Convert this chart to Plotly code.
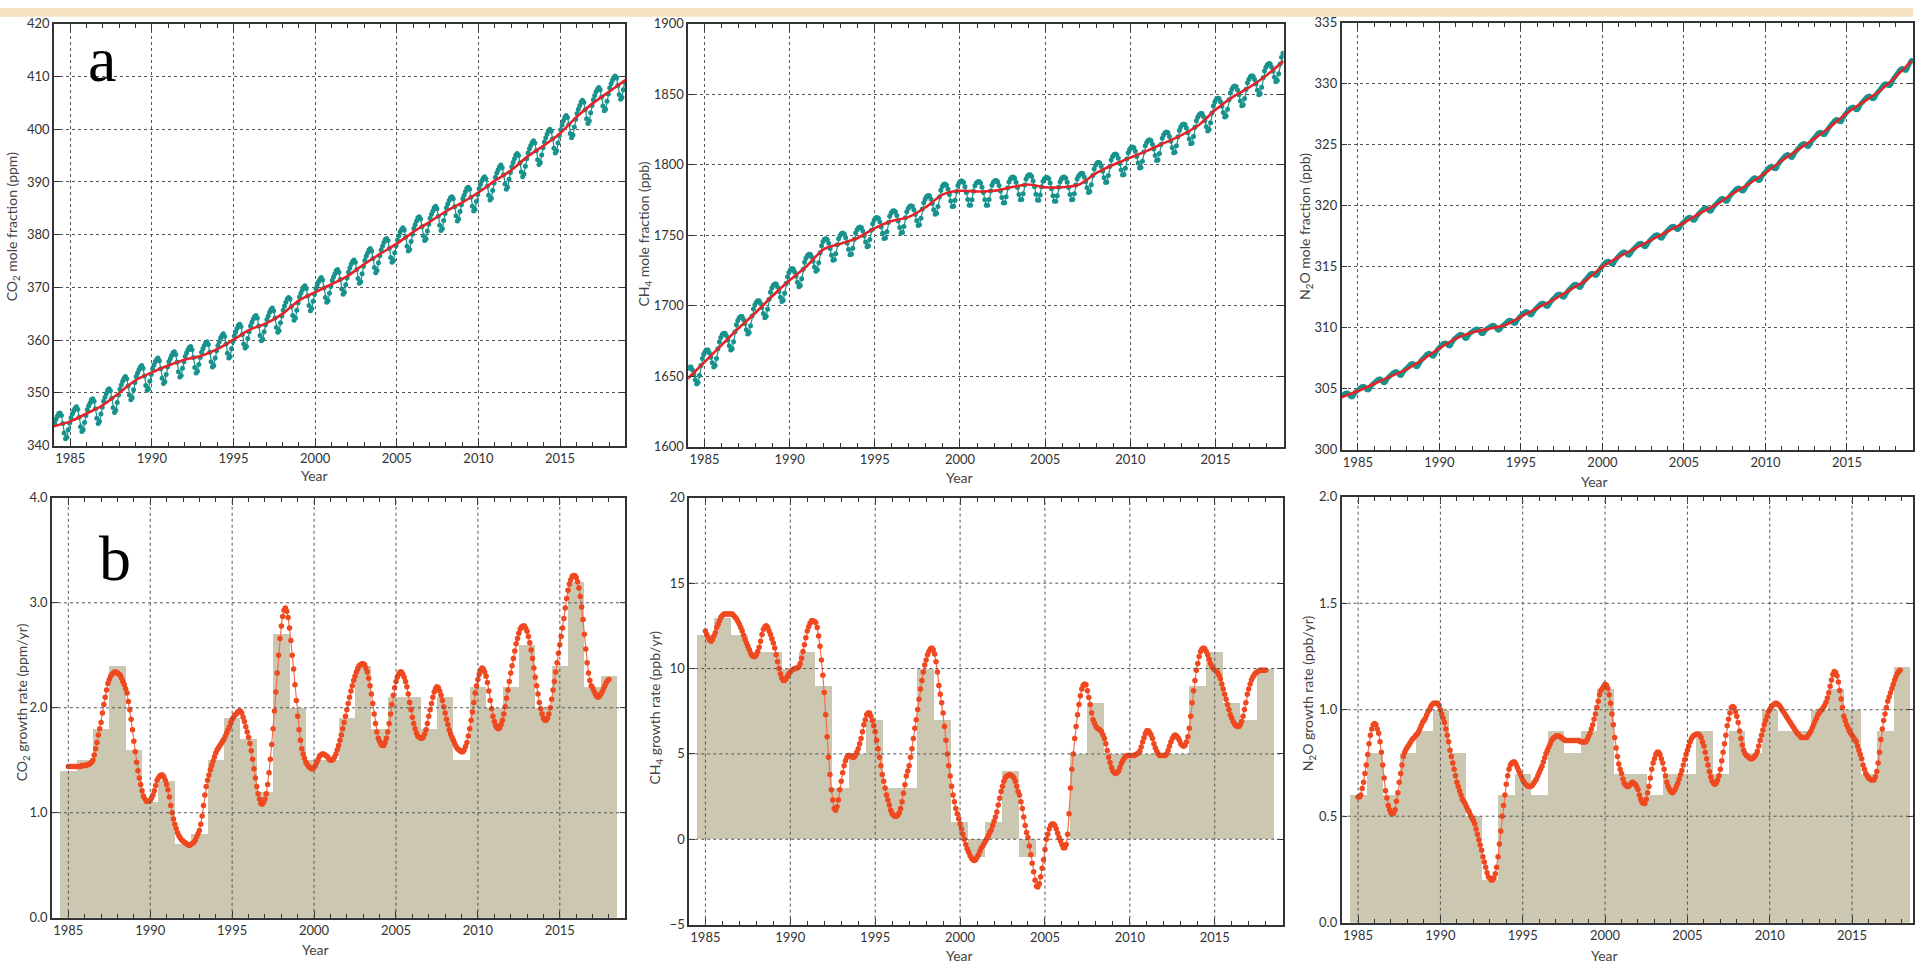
import plotly.graph_objects as go

W, H = 1915, 971

# ---------------- data ----------------
month_years = list(range(1984, 2019))      # monthly means, one row per year
trend_years = list(range(1984, 2020))      # de-seasonalised trend, Jan 1 of each year
bar_years = list(range(1985, 2019))        # annual increase bars
growth_start = 1985                        # growth-rate curves, monthly from Jan 1985

co2_month = [
    [344.3, 345.0, 345.6, 346.1, 346.2, 345.7, 344.2, 342.4, 341.3, 341.6, 343.0, 344.3],
    [345.3, 346.0, 346.6, 347.1, 347.4, 346.9, 345.4, 343.6, 342.7, 343.0, 344.4, 345.7],
    [346.8, 347.5, 348.1, 348.7, 348.9, 348.4, 347.0, 345.2, 344.2, 344.6, 346.0, 347.3],
    [348.4, 349.2, 349.9, 350.5, 350.8, 350.4, 349.0, 347.2, 346.3, 346.7, 348.2, 349.6],
    [350.7, 351.5, 352.2, 352.8, 353.1, 352.7, 351.3, 349.6, 348.7, 349.1, 350.6, 352.0],
    [353.1, 353.8, 354.4, 354.9, 355.2, 354.7, 353.2, 351.4, 350.5, 350.8, 352.2, 353.5],
    [354.6, 355.3, 355.9, 356.4, 356.6, 356.1, 354.6, 352.8, 351.8, 352.1, 353.5, 354.9],
    [355.9, 356.5, 357.1, 357.6, 357.8, 357.3, 355.8, 354.0, 353.0, 353.3, 354.7, 355.9],
    [356.9, 357.6, 358.2, 358.6, 358.8, 358.2, 356.7, 354.8, 353.8, 354.1, 355.4, 356.7],
    [357.7, 358.4, 359.0, 359.5, 359.7, 359.2, 357.7, 355.9, 354.9, 355.2, 356.6, 358.0],
    [359.0, 359.7, 360.4, 360.9, 361.2, 360.7, 359.3, 357.5, 356.6, 356.9, 358.4, 359.7],
    [360.8, 361.5, 362.2, 362.8, 363.0, 362.6, 361.1, 359.3, 358.5, 358.8, 360.3, 361.6],
    [362.7, 363.4, 364.0, 364.5, 364.7, 364.2, 362.7, 360.9, 359.9, 360.2, 361.6, 362.9],
    [363.9, 364.6, 365.3, 365.8, 366.1, 365.6, 364.2, 362.4, 361.5, 361.8, 363.3, 364.6],
    [365.7, 366.5, 367.2, 367.8, 368.1, 367.8, 366.4, 364.7, 363.8, 364.2, 365.7, 367.1],
    [368.2, 368.9, 369.5, 370.1, 370.3, 369.8, 368.4, 366.6, 365.6, 366.0, 367.4, 368.7],
    [369.8, 370.5, 371.1, 371.6, 371.9, 371.4, 369.9, 368.1, 367.2, 367.5, 368.9, 370.2],
    [371.3, 372.0, 372.6, 373.2, 373.4, 372.9, 371.5, 369.7, 368.7, 369.1, 370.5, 371.8],
    [372.9, 373.7, 374.4, 374.9, 375.2, 374.8, 373.4, 371.7, 370.8, 371.1, 372.6, 374.0],
    [375.1, 375.9, 376.5, 377.1, 377.4, 376.9, 375.5, 373.8, 372.8, 373.2, 374.7, 376.0],
    [377.1, 377.8, 378.5, 379.1, 379.3, 378.9, 377.4, 375.7, 374.8, 375.1, 376.6, 377.9],
    [379.0, 379.8, 380.5, 381.0, 381.3, 380.9, 379.5, 377.8, 376.9, 377.2, 378.7, 380.1],
    [381.2, 381.9, 382.6, 383.2, 383.4, 383.0, 381.5, 379.8, 378.9, 379.2, 380.7, 382.0],
    [383.1, 383.9, 384.5, 385.1, 385.4, 384.9, 383.5, 381.8, 380.8, 381.2, 382.7, 384.0],
    [385.1, 385.8, 386.5, 387.0, 387.2, 386.8, 385.3, 383.6, 382.6, 383.0, 384.4, 385.7],
    [386.8, 387.5, 388.2, 388.8, 389.0, 388.6, 387.1, 385.4, 384.5, 384.8, 386.3, 387.6],
    [388.7, 389.5, 390.2, 390.7, 391.0, 390.6, 389.2, 387.5, 386.6, 386.9, 388.4, 389.8],
    [390.9, 391.7, 392.3, 392.9, 393.2, 392.7, 391.3, 389.6, 388.6, 389.0, 390.5, 391.8],
    [392.9, 393.7, 394.4, 395.1, 395.4, 395.0, 393.6, 391.9, 391.0, 391.5, 393.0, 394.4],
    [395.5, 396.3, 396.9, 397.5, 397.8, 397.4, 395.9, 394.2, 393.3, 393.7, 395.1, 396.5],
    [397.6, 398.4, 399.1, 399.7, 400.0, 399.6, 398.2, 396.4, 395.5, 395.9, 397.4, 398.8],
    [399.9, 400.8, 401.6, 402.2, 402.6, 402.2, 400.9, 399.2, 398.4, 398.9, 400.4, 401.9],
    [403.0, 403.8, 404.5, 405.2, 405.5, 405.1, 403.7, 402.0, 401.1, 401.6, 403.1, 404.5],
    [405.6, 406.4, 407.1, 407.6, 407.9, 407.5, 406.1, 404.4, 403.5, 403.8, 405.3, 406.7],
    [407.8, 408.6, 409.3, 409.8, 410.1, 409.7, 408.3, 406.6, 405.7, 406.0, 407.5, 408.9],
]
co2_trend = [343.7, 344.6, 346.1, 347.7, 350.0, 352.4, 353.9, 355.2, 356.3, 357.0, 358.3, 360.1,
             362.0, 363.2, 365.0, 367.5, 369.1, 370.6, 372.2, 374.4, 376.4, 378.3, 380.5, 382.4,
             384.4, 386.1, 388.0, 390.2, 392.2, 394.8, 396.9, 399.2, 402.3, 404.9, 407.1, 409.3]

ch4_month = [
    [1655.5, 1656.5, 1656.5, 1654.5, 1651.5, 1647.5, 1644.5, 1645.5, 1650.5, 1657.5, 1662.5, 1665.5],
    [1667.5, 1668.5, 1668.5, 1666.5, 1663.5, 1659.5, 1656.5, 1657.5, 1662.5, 1669.5, 1674.5, 1677.5],
    [1679.5, 1680.5, 1680.5, 1678.5, 1675.5, 1671.5, 1668.5, 1669.5, 1674.5, 1681.5, 1686.5, 1689.5],
    [1691.5, 1692.4, 1692.3, 1690.2, 1687.1, 1683.0, 1680.0, 1680.9, 1685.8, 1692.7, 1697.6, 1700.5],
    [1702.5, 1703.5, 1703.5, 1701.5, 1698.5, 1694.5, 1691.5, 1692.5, 1697.5, 1704.5, 1709.5, 1712.5],
    [1714.5, 1715.4, 1715.3, 1713.2, 1710.1, 1706.0, 1703.0, 1703.9, 1708.8, 1715.7, 1720.6, 1723.5],
    [1725.4, 1726.3, 1726.1, 1723.9, 1720.8, 1716.6, 1713.4, 1714.3, 1719.1, 1725.9, 1730.8, 1733.6],
    [1735.5, 1736.5, 1736.5, 1734.5, 1731.5, 1727.5, 1724.5, 1725.5, 1730.5, 1737.5, 1742.5, 1745.5],
    [1747.2, 1747.5, 1746.8, 1744.2, 1740.5, 1735.8, 1732.2, 1732.5, 1736.8, 1743.2, 1747.5, 1749.8],
    [1751.2, 1751.5, 1750.8, 1748.2, 1744.5, 1739.8, 1736.2, 1736.5, 1740.8, 1747.2, 1751.5, 1753.8],
    [1755.3, 1755.9, 1755.5, 1753.0, 1749.6, 1745.2, 1741.8, 1742.4, 1747.0, 1753.5, 1758.1, 1760.7],
    [1762.2, 1762.6, 1762.0, 1759.5, 1755.9, 1751.3, 1747.7, 1748.1, 1752.5, 1759.0, 1763.4, 1765.8],
    [1767.1, 1767.4, 1766.6, 1763.9, 1760.1, 1755.4, 1751.6, 1751.9, 1756.1, 1762.4, 1766.6, 1768.9],
    [1770.3, 1770.9, 1770.5, 1768.0, 1764.6, 1760.2, 1756.8, 1757.4, 1762.0, 1768.5, 1773.1, 1775.7],
    [1777.4, 1778.1, 1777.9, 1775.6, 1772.4, 1768.1, 1764.9, 1765.6, 1770.4, 1777.1, 1781.9, 1784.6],
    [1786.1, 1786.3, 1785.5, 1782.7, 1778.9, 1774.2, 1770.4, 1770.6, 1774.8, 1781.0, 1785.2, 1787.4],
    [1788.5, 1788.4, 1787.4, 1784.4, 1780.3, 1775.3, 1771.2, 1771.2, 1775.1, 1781.1, 1785.1, 1787.0],
    [1788.0, 1788.1, 1787.1, 1784.1, 1780.2, 1775.2, 1771.3, 1771.3, 1775.4, 1781.4, 1785.4, 1787.5],
    [1788.6, 1788.8, 1788.0, 1785.2, 1781.4, 1776.7, 1772.9, 1773.1, 1777.3, 1783.5, 1787.7, 1789.9],
    [1791.1, 1791.3, 1790.4, 1787.6, 1783.8, 1778.9, 1775.1, 1775.3, 1779.4, 1785.6, 1789.8, 1791.9],
    [1792.9, 1792.8, 1791.6, 1788.4, 1784.3, 1779.1, 1774.9, 1774.8, 1778.6, 1784.4, 1788.3, 1790.1],
    [1791.0, 1791.0, 1790.0, 1787.0, 1783.0, 1778.0, 1774.0, 1774.0, 1778.0, 1784.0, 1788.0, 1790.0],
    [1791.1, 1791.3, 1790.4, 1787.6, 1783.8, 1778.9, 1775.1, 1775.3, 1779.4, 1785.6, 1789.8, 1791.9],
    [1793.3, 1794.0, 1793.7, 1791.3, 1788.0, 1783.7, 1780.3, 1781.0, 1785.7, 1792.3, 1797.0, 1799.7],
    [1801.3, 1801.8, 1801.3, 1798.8, 1795.3, 1790.8, 1787.3, 1787.8, 1792.3, 1798.8, 1803.3, 1805.8],
    [1807.2, 1807.6, 1807.0, 1804.5, 1800.9, 1796.3, 1792.7, 1793.1, 1797.5, 1804.0, 1808.4, 1810.8],
    [1812.2, 1812.6, 1812.0, 1809.5, 1805.9, 1801.3, 1797.7, 1798.1, 1802.5, 1809.0, 1813.4, 1815.8],
    [1817.2, 1817.7, 1817.2, 1814.6, 1811.1, 1806.5, 1803.0, 1803.4, 1807.9, 1814.4, 1818.8, 1821.3],
    [1822.7, 1823.2, 1822.7, 1820.1, 1816.6, 1812.0, 1808.5, 1808.9, 1813.4, 1819.9, 1824.3, 1826.8],
    [1828.3, 1828.9, 1828.5, 1826.0, 1822.6, 1818.2, 1814.8, 1815.4, 1820.0, 1826.5, 1831.1, 1833.7],
    [1835.5, 1836.4, 1836.3, 1834.2, 1831.1, 1827.0, 1824.0, 1824.9, 1829.8, 1836.7, 1841.6, 1844.5],
    [1846.4, 1847.1, 1846.9, 1844.6, 1841.4, 1837.1, 1833.9, 1834.6, 1839.4, 1846.1, 1850.9, 1853.6],
    [1855.3, 1855.9, 1855.5, 1853.0, 1849.6, 1845.2, 1841.8, 1842.4, 1847.0, 1853.5, 1858.1, 1860.7],
    [1862.4, 1863.1, 1862.8, 1860.5, 1857.2, 1852.9, 1849.6, 1850.3, 1855.0, 1861.7, 1866.4, 1869.2],
    [1870.9, 1871.8, 1871.6, 1869.4, 1866.3, 1862.1, 1858.9, 1859.8, 1864.6, 1871.4, 1876.3, 1879.1],
]
ch4_trend = [1648, 1660, 1672, 1684, 1695, 1707, 1718, 1728, 1740, 1744, 1748, 1755,
             1760, 1763, 1770, 1779, 1781.5, 1781, 1781.5, 1784, 1786, 1784, 1784, 1786,
             1794, 1800, 1805, 1810, 1815.5, 1821, 1828, 1839, 1848, 1855, 1863.5, 1873.5]

n2o_month = [
    [304.42, 304.51, 304.60, 304.65, 304.64, 304.53, 304.37, 304.31, 304.40, 304.60, 304.74, 304.83],
    [304.93, 305.03, 305.13, 305.18, 305.18, 305.08, 304.93, 304.88, 304.98, 305.18, 305.33, 305.43],
    [305.53, 305.63, 305.73, 305.78, 305.78, 305.68, 305.53, 305.48, 305.58, 305.78, 305.93, 306.03],
    [306.13, 306.23, 306.33, 306.38, 306.38, 306.28, 306.13, 306.08, 306.18, 306.38, 306.53, 306.63],
    [306.73, 306.85, 306.97, 307.03, 307.05, 306.97, 306.83, 306.80, 306.92, 307.13, 307.30, 307.42],
    [307.54, 307.66, 307.79, 307.86, 307.89, 307.81, 307.69, 307.66, 307.79, 308.01, 308.19, 308.31],
    [308.43, 308.55, 308.67, 308.73, 308.75, 308.67, 308.53, 308.50, 308.62, 308.83, 309.00, 309.12],
    [309.22, 309.31, 309.40, 309.45, 309.44, 309.33, 309.17, 309.11, 309.20, 309.40, 309.54, 309.63],
    [309.71, 309.79, 309.86, 309.89, 309.86, 309.74, 309.56, 309.49, 309.56, 309.74, 309.86, 309.94],
    [310.01, 310.09, 310.16, 310.19, 310.16, 310.04, 309.86, 309.79, 309.86, 310.04, 310.16, 310.24],
    [310.33, 310.44, 310.55, 310.60, 310.61, 310.52, 310.38, 310.34, 310.45, 310.65, 310.81, 310.92],
    [311.03, 311.14, 311.25, 311.30, 311.31, 311.22, 311.08, 311.04, 311.15, 311.35, 311.51, 311.62],
    [311.73, 311.84, 311.95, 312.00, 312.01, 311.92, 311.78, 311.74, 311.85, 312.05, 312.21, 312.32],
    [312.43, 312.55, 312.67, 312.73, 312.75, 312.67, 312.53, 312.50, 312.62, 312.83, 313.00, 313.12],
    [313.23, 313.35, 313.47, 313.53, 313.55, 313.47, 313.33, 313.30, 313.42, 313.63, 313.80, 313.92],
    [314.05, 314.19, 314.33, 314.42, 314.46, 314.40, 314.30, 314.29, 314.43, 314.67, 314.86, 315.00],
    [315.13, 315.25, 315.37, 315.43, 315.45, 315.37, 315.23, 315.20, 315.32, 315.53, 315.70, 315.82],
    [315.93, 316.04, 316.15, 316.20, 316.21, 316.12, 315.98, 315.94, 316.05, 316.25, 316.41, 316.52],
    [316.63, 316.74, 316.85, 316.90, 316.91, 316.82, 316.68, 316.64, 316.75, 316.95, 317.11, 317.22],
    [317.33, 317.44, 317.55, 317.60, 317.61, 317.52, 317.38, 317.34, 317.45, 317.65, 317.81, 317.92],
    [318.03, 318.14, 318.25, 318.30, 318.31, 318.22, 318.08, 318.04, 318.15, 318.35, 318.51, 318.62],
    [318.73, 318.85, 318.97, 319.03, 319.05, 318.97, 318.83, 318.80, 318.92, 319.13, 319.30, 319.42],
    [319.53, 319.64, 319.75, 319.80, 319.81, 319.72, 319.58, 319.54, 319.65, 319.85, 320.01, 320.12],
    [320.24, 320.36, 320.49, 320.56, 320.59, 320.51, 320.39, 320.36, 320.49, 320.71, 320.89, 321.01],
    [321.13, 321.25, 321.37, 321.43, 321.45, 321.37, 321.23, 321.20, 321.32, 321.53, 321.70, 321.82],
    [321.94, 322.06, 322.19, 322.26, 322.29, 322.21, 322.09, 322.06, 322.19, 322.41, 322.59, 322.71],
    [322.84, 322.98, 323.11, 323.19, 323.23, 323.16, 323.04, 323.03, 323.16, 323.39, 323.58, 323.71],
    [323.84, 323.96, 324.09, 324.16, 324.19, 324.11, 323.99, 323.96, 324.09, 324.31, 324.49, 324.61],
    [324.74, 324.86, 324.99, 325.06, 325.09, 325.01, 324.89, 324.86, 324.99, 325.21, 325.39, 325.51],
    [325.64, 325.78, 325.91, 325.99, 326.03, 325.96, 325.84, 325.83, 325.96, 326.19, 326.38, 326.51],
    [326.65, 326.79, 326.93, 327.02, 327.06, 327.00, 326.90, 326.89, 327.03, 327.27, 327.46, 327.60],
    [327.74, 327.86, 327.99, 328.06, 328.09, 328.01, 327.89, 327.86, 327.99, 328.21, 328.39, 328.51],
    [328.64, 328.76, 328.89, 328.96, 328.99, 328.91, 328.79, 328.76, 328.89, 329.11, 329.29, 329.41],
    [329.55, 329.70, 329.85, 329.95, 330.00, 329.95, 329.85, 329.85, 330.00, 330.25, 330.45, 330.60],
    [330.75, 330.91, 331.07, 331.18, 331.24, 331.20, 331.10, 331.11, 331.27, 331.53, 331.74, 331.90],
]
n2o_trend = [304.3, 304.8, 305.4, 306.0, 306.6, 307.4, 308.3, 309.1, 309.6, 309.9, 310.2, 310.9,
             311.6, 312.3, 313.1, 313.9, 315.0, 315.8, 316.5, 317.2, 317.9, 318.6, 319.4, 320.1,
             321.0, 321.8, 322.7, 323.7, 324.6, 325.5, 326.5, 327.6, 328.5, 329.4, 330.6, 331.9]

co2_bars = [1.4, 1.5, 1.8, 2.4, 1.6, 1.1, 1.3, 0.7, 0.8, 1.5, 1.9, 1.7, 1.2, 2.7, 2.0, 1.5, 1.5,
            1.9, 2.4, 1.8, 2.1, 2.1, 1.8, 2.1, 1.5, 2.2, 2.0, 2.2, 2.6, 2.0, 2.4, 3.2, 2.2, 2.3]
ch4_bars = [12, 13, 12, 11, 11, 10, 11, 9, 3, 5, 7, 3, 3, 10, 7, 1, -1,
            1, 4, -1, 0, 0, 5, 8, 5, 5, 5, 5, 5, 9, 11, 8, 7, 10]
n2o_bars = [0.6, 0.8, 0.6, 0.8, 0.9, 1.0, 0.8, 0.5, 0.2, 0.6, 0.7, 0.6, 0.9, 0.8, 0.9, 1.1, 0.7,
            0.7, 0.6, 0.7, 0.7, 0.9, 0.7, 0.9, 0.8, 1.0, 0.9, 0.9, 1.0, 1.1, 1.0, 0.7, 0.9, 1.2]

co2_growth = [
    [1.44, 1.44, 1.44, 1.44, 1.44, 1.44, 1.44, 1.44, 1.44, 1.44, 1.45, 1.45],
    [1.45, 1.45, 1.46, 1.46, 1.47, 1.48, 1.50, 1.55, 1.61, 1.67, 1.74, 1.80],
    [1.86, 1.95, 2.03, 2.10, 2.17, 2.23, 2.27, 2.30, 2.32, 2.33, 2.34, 2.34],
    [2.33, 2.32, 2.31, 2.28, 2.25, 2.22, 2.18, 2.14, 2.06, 1.98, 1.89, 1.79],
    [1.68, 1.58, 1.48, 1.40, 1.33, 1.27, 1.21, 1.16, 1.13, 1.11, 1.11, 1.11],
    [1.12, 1.14, 1.17, 1.21, 1.26, 1.31, 1.33, 1.35, 1.36, 1.36, 1.34, 1.31],
    [1.27, 1.22, 1.15, 1.07, 1.00, 0.94, 0.89, 0.85, 0.81, 0.78, 0.76, 0.74],
    [0.73, 0.72, 0.71, 0.70, 0.69, 0.69, 0.70, 0.71, 0.72, 0.74, 0.77, 0.80],
    [0.83, 0.89, 0.97, 1.07, 1.17, 1.25, 1.31, 1.36, 1.41, 1.45, 1.49, 1.53],
    [1.57, 1.60, 1.62, 1.64, 1.66, 1.68, 1.70, 1.73, 1.76, 1.79, 1.82, 1.86],
    [1.89, 1.91, 1.93, 1.94, 1.96, 1.97, 1.97, 1.95, 1.91, 1.87, 1.82, 1.77],
    [1.72, 1.66, 1.59, 1.51, 1.42, 1.33, 1.25, 1.18, 1.13, 1.09, 1.08, 1.10],
    [1.13, 1.18, 1.27, 1.38, 1.51, 1.65, 1.80, 1.97, 2.15, 2.33, 2.50, 2.66],
    [2.78, 2.87, 2.93, 2.95, 2.92, 2.86, 2.76, 2.64, 2.50, 2.37, 2.22, 2.07],
    [1.92, 1.79, 1.69, 1.61, 1.56, 1.52, 1.48, 1.46, 1.44, 1.43, 1.42, 1.42],
    [1.43, 1.45, 1.48, 1.51, 1.54, 1.55, 1.56, 1.56, 1.55, 1.54, 1.53, 1.51],
    [1.50, 1.50, 1.51, 1.53, 1.56, 1.60, 1.64, 1.69, 1.74, 1.80, 1.86, 1.92],
    [1.98, 2.04, 2.10, 2.16, 2.21, 2.26, 2.30, 2.34, 2.37, 2.40, 2.41, 2.42],
    [2.42, 2.41, 2.38, 2.34, 2.28, 2.21, 2.13, 2.04, 1.94, 1.85, 1.77, 1.71],
    [1.68, 1.65, 1.64, 1.64, 1.67, 1.71, 1.77, 1.85, 1.94, 2.03, 2.12, 2.19],
    [2.25, 2.29, 2.32, 2.34, 2.34, 2.32, 2.29, 2.25, 2.20, 2.13, 2.05, 1.98],
    [1.91, 1.85, 1.80, 1.76, 1.73, 1.72, 1.71, 1.71, 1.72, 1.75, 1.79, 1.85],
    [1.92, 1.98, 2.04, 2.10, 2.15, 2.18, 2.20, 2.19, 2.16, 2.12, 2.07, 2.01],
    [1.95, 1.89, 1.84, 1.79, 1.75, 1.72, 1.69, 1.66, 1.63, 1.61, 1.60, 1.59],
    [1.58, 1.58, 1.60, 1.63, 1.67, 1.73, 1.80, 1.88, 1.96, 2.05, 2.14, 2.21],
    [2.27, 2.32, 2.36, 2.38, 2.37, 2.34, 2.30, 2.24, 2.16, 2.07, 1.99, 1.92],
    [1.87, 1.83, 1.81, 1.80, 1.81, 1.84, 1.88, 1.94, 2.01, 2.09, 2.17, 2.25],
    [2.33, 2.40, 2.47, 2.54, 2.61, 2.66, 2.71, 2.75, 2.77, 2.78, 2.78, 2.76],
    [2.73, 2.68, 2.62, 2.55, 2.47, 2.38, 2.29, 2.21, 2.13, 2.05, 1.99, 1.94],
    [1.90, 1.88, 1.88, 1.90, 1.94, 2.00, 2.08, 2.17, 2.25, 2.34, 2.43, 2.52],
    [2.60, 2.68, 2.76, 2.85, 2.95, 3.04, 3.12, 3.18, 3.22, 3.25, 3.26, 3.26],
    [3.24, 3.20, 3.14, 3.06, 2.96, 2.84, 2.70, 2.56, 2.43, 2.33, 2.26, 2.21],
    [2.19, 2.16, 2.13, 2.11, 2.10, 2.11, 2.13, 2.15, 2.18, 2.21, 2.24, 2.26],
    [2.27],
]

ch4_growth = [
    [12.2, 12.0, 11.8, 11.65, 11.6, 11.7, 11.9, 12.1, 12.4, 12.6, 12.8, 13.0],
    [13.1, 13.2, 13.2, 13.2, 13.2, 13.2, 13.2, 13.2, 13.1, 13.0, 12.9, 12.75],
    [12.6, 12.4, 12.2, 11.95, 11.7, 11.5, 11.3, 11.1, 10.9, 10.75, 10.7, 10.7],
    [10.8, 11.0, 11.25, 11.6, 12.0, 12.3, 12.45, 12.5, 12.4, 12.2, 12.0, 11.75],
    [11.5, 11.2, 10.8, 10.4, 10.0, 9.7, 9.45, 9.3, 9.3, 9.4, 9.55, 9.7],
    [9.8, 9.9, 9.95, 10.0, 10.0, 10.05, 10.1, 10.3, 10.6, 11.0, 11.4, 11.8],
    [12.2, 12.45, 12.65, 12.8, 12.8, 12.75, 12.7, 12.4, 11.9, 11.3, 10.5, 9.6],
    [8.6, 7.3, 6.0, 4.8, 3.8, 2.9, 2.3, 1.8, 1.7, 1.9, 2.3, 2.9],
    [3.4, 3.9, 4.3, 4.6, 4.8, 4.9, 4.9, 4.85, 4.8, 4.8, 4.9, 5.1],
    [5.3, 5.6, 5.9, 6.3, 6.7, 7.0, 7.3, 7.4, 7.4, 7.2, 6.95, 6.65],
    [6.3, 5.8, 5.3, 4.8, 4.3, 3.8, 3.4, 3.0, 2.6, 2.3, 2.0, 1.7],
    [1.5, 1.4, 1.35, 1.35, 1.4, 1.55, 1.8, 2.2, 2.7, 3.2, 3.7, 4.0],
    [4.3, 4.8, 5.3, 5.9, 6.5, 7.0, 7.6, 8.2, 8.8, 9.3, 9.8, 10.2],
    [10.5, 10.8, 11.0, 11.15, 11.2, 11.1, 10.85, 10.4, 9.8, 9.0, 8.5, 8.0],
    [7.4, 6.6, 5.8, 5.0, 4.3, 3.7, 3.1, 2.6, 2.2, 1.8, 1.5, 1.2],
    [0.9, 0.6, 0.3, 0.0, -0.3, -0.55, -0.75, -0.95, -1.1, -1.2, -1.25, -1.2],
    [-1.05, -0.9, -0.7, -0.5, -0.4, -0.25, -0.1, 0.05, 0.2, 0.4, 0.55, 0.8],
    [1.05, 1.3, 1.6, 2.0, 2.4, 2.8, 3.1, 3.4, 3.6, 3.7, 3.75, 3.8],
    [3.75, 3.7, 3.6, 3.4, 3.1, 2.8, 2.6, 2.2, 1.8, 1.3, 0.8, 0.4],
    [0.1, -0.4, -0.9, -1.4, -1.9, -2.4, -2.75, -2.8, -2.6, -2.2, -1.7, -1.2],
    [-0.6, 0.0, 0.3, 0.6, 0.8, 0.9, 0.9, 0.8, 0.6, 0.35, 0.1, -0.1],
    [-0.3, -0.5, -0.5, -0.3, 0.3, 1.5, 3.0, 4.1, 5.0, 5.9, 6.6, 7.3],
    [7.9, 8.4, 8.8, 9.0, 9.1, 9.05, 8.7, 8.3, 7.9, 7.4, 7.0, 6.8],
    [6.6, 6.5, 6.45, 6.4, 6.3, 6.1, 5.9, 5.6, 5.2, 4.8, 4.5, 4.2],
    [4.0, 3.9, 3.85, 3.9, 4.0, 4.2, 4.45, 4.6, 4.75, 4.85, 4.9, 4.9],
    [4.9, 4.9, 4.9, 4.9, 4.95, 5.0, 5.05, 5.15, 5.4, 5.7, 5.95, 6.2],
    [6.35, 6.35, 6.25, 6.1, 5.9, 5.6, 5.35, 5.15, 5.0, 4.9, 4.9, 4.9],
    [4.9, 4.9, 5.0, 5.2, 5.45, 5.7, 5.9, 6.05, 6.1, 6.05, 5.95, 5.8],
    [5.6, 5.5, 5.45, 5.5, 5.7, 6.0, 6.5, 7.2, 8.0, 8.7, 9.3, 9.9],
    [10.3, 10.7, 11.0, 11.15, 11.2, 11.15, 11.0, 10.8, 10.55, 10.3, 10.1, 10.0],
    [9.9, 9.85, 9.75, 9.6, 9.4, 9.1, 8.8, 8.5, 8.2, 7.9, 7.6, 7.3],
    [7.1, 6.9, 6.75, 6.65, 6.6, 6.6, 6.7, 6.9, 7.2, 7.6, 8.0, 8.5],
    [8.8, 9.1, 9.35, 9.5, 9.65, 9.75, 9.8, 9.85, 9.9, 9.9, 9.9, 9.9],
    [9.9],
]

n2o_growth = [
    [0.59, 0.59, 0.60, 0.63, 0.66, 0.70, 0.74, 0.79, 0.84, 0.88, 0.91, 0.93],
    [0.935, 0.93, 0.91, 0.89, 0.85, 0.80, 0.74, 0.68, 0.62, 0.585, 0.55, 0.53],
    [0.515, 0.51, 0.515, 0.53, 0.57, 0.61, 0.66, 0.70, 0.74, 0.78, 0.80, 0.815],
    [0.825, 0.835, 0.845, 0.855, 0.865, 0.87, 0.88, 0.885, 0.895, 0.91, 0.925, 0.94],
    [0.95, 0.96, 0.975, 0.99, 1.00, 1.015, 1.025, 1.03, 1.03, 1.03, 1.03, 1.02],
    [1.00, 0.98, 0.96, 0.94, 0.91, 0.88, 0.85, 0.81, 0.78, 0.75, 0.72, 0.69],
    [0.66, 0.64, 0.62, 0.60, 0.58, 0.57, 0.56, 0.545, 0.53, 0.52, 0.505, 0.49],
    [0.48, 0.465, 0.44, 0.415, 0.39, 0.365, 0.34, 0.31, 0.285, 0.26, 0.235, 0.215],
    [0.21, 0.20, 0.20, 0.21, 0.23, 0.26, 0.31, 0.37, 0.43, 0.50, 0.55, 0.60],
    [0.65, 0.69, 0.72, 0.74, 0.75, 0.755, 0.755, 0.745, 0.73, 0.715, 0.70, 0.685],
    [0.67, 0.66, 0.65, 0.645, 0.64, 0.64, 0.64, 0.645, 0.655, 0.665, 0.675, 0.69],
    [0.705, 0.72, 0.735, 0.755, 0.775, 0.795, 0.81, 0.825, 0.84, 0.855, 0.865, 0.87],
    [0.875, 0.877, 0.877, 0.875, 0.87, 0.865, 0.86, 0.855, 0.855, 0.855, 0.855, 0.855],
    [0.855, 0.855, 0.855, 0.855, 0.855, 0.855, 0.85, 0.85, 0.848, 0.848, 0.85, 0.86],
    [0.875, 0.89, 0.91, 0.93, 0.955, 0.98, 1.01, 1.04, 1.07, 1.09, 1.10, 1.11],
    [1.12, 1.115, 1.10, 1.07, 1.03, 0.98, 0.93, 0.87, 0.82, 0.78, 0.745, 0.72],
    [0.70, 0.675, 0.655, 0.645, 0.64, 0.64, 0.645, 0.655, 0.66, 0.655, 0.65, 0.64],
    [0.625, 0.60, 0.58, 0.565, 0.56, 0.56, 0.58, 0.61, 0.64, 0.68, 0.72, 0.75],
    [0.77, 0.79, 0.80, 0.80, 0.79, 0.77, 0.75, 0.72, 0.69, 0.66, 0.64, 0.625],
    [0.615, 0.61, 0.615, 0.625, 0.64, 0.655, 0.675, 0.695, 0.715, 0.74, 0.765, 0.79],
    [0.81, 0.83, 0.85, 0.865, 0.875, 0.88, 0.885, 0.885, 0.885, 0.88, 0.87, 0.85],
    [0.83, 0.80, 0.77, 0.74, 0.71, 0.685, 0.665, 0.655, 0.65, 0.655, 0.67, 0.69],
    [0.72, 0.76, 0.80, 0.84, 0.88, 0.925, 0.955, 0.985, 1.01, 1.015, 1.01, 0.99],
    [0.97, 0.94, 0.90, 0.865, 0.835, 0.81, 0.795, 0.785, 0.78, 0.775, 0.77, 0.77],
    [0.775, 0.78, 0.79, 0.805, 0.83, 0.855, 0.88, 0.905, 0.93, 0.95, 0.97, 0.99],
    [1.00, 1.01, 1.02, 1.025, 1.03, 1.03, 1.025, 1.02, 1.01, 1.00, 0.99, 0.98],
    [0.97, 0.96, 0.95, 0.94, 0.93, 0.92, 0.91, 0.90, 0.89, 0.885, 0.875, 0.87],
    [0.87, 0.87, 0.87, 0.87, 0.88, 0.89, 0.90, 0.915, 0.93, 0.945, 0.96, 0.975],
    [0.985, 0.995, 1.00, 1.01, 1.02, 1.035, 1.055, 1.08, 1.11, 1.14, 1.165, 1.18],
    [1.175, 1.16, 1.13, 1.09, 1.05, 1.01, 0.97, 0.95, 0.93, 0.915, 0.90, 0.89],
    [0.88, 0.87, 0.86, 0.85, 0.83, 0.81, 0.79, 0.77, 0.74, 0.72, 0.70, 0.69],
    [0.68, 0.675, 0.67, 0.67, 0.67, 0.685, 0.71, 0.75, 0.80, 0.86, 0.91, 0.95],
    [0.98, 1.01, 1.04, 1.06, 1.08, 1.10, 1.12, 1.14, 1.155, 1.17, 1.18, 1.185],
]

year_ticks = [1985, 1990, 1995, 2000, 2005, 2010, 2015]

# ---------------- helpers ----------------
def flatten_monthly(years, rows):
    xs, ys = [], []
    for yr, row in zip(years, rows):
        for m, v in enumerate(row):
            xs.append(yr + (m + 0.5) / 12.0)
            ys.append(v)
    return xs, ys


def flatten_growth(start, rows):
    xs, ys = [], []
    for i, row in enumerate(rows):
        for k, v in enumerate(row):
            xs.append(start + i + k / 12.0)
            ys.append(v)
    return xs, ys


def px(xp):
    return xp / W


def py(yp):
    return 1 - yp / H


TEAL = '#17928C'
RED = '#E52329'
BAR = '#CCC7B0'
DOT = '#F0481F'
DOTLINE = '#F4704F'
AXC = '#333333'
GRIDC = '#555555'
FONT = 'Lato'

# panel boxes in pixels: left, right, top, bottom
boxes = [
    (54, 626, 16, 445),
    (689, 1285, 16, 446),
    (1343, 1915, 15, 449),
    (52, 626, 498, 925),
    (690, 1284, 498, 932),
    (1343, 1915, 497, 930),
]
xranges = [[1984, 2019], [1984.05, 2019], [1984, 2019.05],
           [1984, 2019], [1984.05, 2019], [1984, 2018.7]]
yranges = [[340, 420], [1600, 1900], [300, 335], [0, 4], [-5, 20], [0, 2]]
ydticks = [10, 50, 5, 1, 5, 0.5]
yfmts = ['', '', '', '.1f', '', '.1f']

fig = go.Figure()

# top row: monthly means + trend
top_sets = [(co2_month, co2_trend), (ch4_month, ch4_trend), (n2o_month, n2o_trend)]
for i, (mrows, trend) in enumerate(top_sets):
    ax = '' if i == 0 else str(i + 1)
    mx, my = flatten_monthly(month_years, mrows)
    fig.add_trace(go.Scatter(
        x=mx, y=my, mode='lines+markers', xaxis='x' + ax, yaxis='y' + ax,
        line=dict(color=TEAL, width=1.2), marker=dict(color=TEAL, size=5),
        showlegend=False, hoverinfo='skip'))
    fig.add_trace(go.Scatter(
        x=trend_years, y=trend, mode='lines', xaxis='x' + ax, yaxis='y' + ax,
        line=dict(color=RED, width=2.6, shape='spline', smoothing=0.8),
        showlegend=False, hoverinfo='skip'))

# bottom row: annual bars + smoothed growth rate
bot_sets = [(co2_bars, co2_growth), (ch4_bars, ch4_growth), (n2o_bars, n2o_growth)]
for i, (bars, grows) in enumerate(bot_sets):
    ax = str(i + 4)
    fig.add_trace(go.Bar(
        x=bar_years, y=bars, width=1.0, xaxis='x' + ax, yaxis='y' + ax,
        marker=dict(color=BAR, line=dict(width=0)), showlegend=False, hoverinfo='skip'))
    gx, gy = flatten_growth(growth_start, grows)
    fig.add_trace(go.Scatter(
        x=gx, y=gy, mode='lines+markers', xaxis='x' + ax, yaxis='y' + ax,
        line=dict(color=DOTLINE, width=1.2), marker=dict(color=DOT, size=5.5),
        showlegend=False, hoverinfo='skip'))

layout = dict(
    width=W, height=H,
    margin=dict(l=0, r=0, t=0, b=0, pad=0),
    paper_bgcolor='white', plot_bgcolor='white',
    showlegend=False, bargap=0,
    font=dict(family=FONT, size=13, color=AXC),
)

shapes = [dict(type='rect', xref='paper', yref='paper', x0=0, x1=1, y0=py(9), y1=1,
               fillcolor='#F5E2BF', line=dict(width=0), layer='above')]

for i, (l, r, t, b) in enumerate(boxes):
    n = '' if i == 0 else str(i + 1)
    top_row = i < 3
    layout['xaxis' + n] = dict(
        domain=[px(l), px(r)], anchor='y' + n, range=xranges[i],
        tickmode='linear', tick0=1985, dtick=5,
        ticks='inside', ticklen=7, tickwidth=1.3, tickcolor=AXC,
        minor=dict(ticks='inside', ticklen=4, tickwidth=1, tickcolor=AXC,
                   tick0=1985, dtick=1, showgrid=False),
        showline=True, linecolor=AXC, linewidth=1.6, mirror='allticks',
        showgrid=top_row, gridcolor=GRIDC, gridwidth=1, griddash='dot',
        zeroline=False, tickfont=dict(family=FONT, size=13, color=AXC),
        fixedrange=True)
    layout['yaxis' + n] = dict(
        domain=[py(b), py(t)], anchor='x' + n, range=yranges[i],
        tickmode='linear', tick0=yranges[i][0], dtick=ydticks[i], tickformat=yfmts[i],
        ticks='inside', ticklen=6, tickwidth=1.3, tickcolor=AXC,
        showline=True, linecolor=AXC, linewidth=1.6, mirror='allticks',
        showgrid=top_row, gridcolor=GRIDC, gridwidth=1, griddash='dot',
        zeroline=False, tickfont=dict(family=FONT, size=13, color=AXC),
        fixedrange=True)
    if not top_row:
        xa = 'x' + n
        ya = 'y' + n
        for yt in year_ticks:
            shapes.append(dict(type='line', xref=xa, yref=ya + ' domain', x0=yt, x1=yt,
                               y0=0, y1=1, layer='above',
                               line=dict(color=GRIDC, width=1, dash='dot')))
        lo, hi = yranges[i]
        v = lo + ydticks[i]
        while v < hi - 1e-9:
            shapes.append(dict(type='line', xref=xa + ' domain', yref=ya, x0=0, x1=1,
                               y0=v, y1=v, layer='above',
                               line=dict(color=GRIDC, width=1, dash='dot')))
            v += ydticks[i]

layout['shapes'] = shapes

annotations = []
ytitles = [
    ('CO<sub>2</sub> mole fraction (ppm)', 12, 222),
    ('CH<sub>4</sub> mole fraction (ppb)', 645, 230),
    ('N<sub>2</sub>O mole fraction (ppb)', 1307, 222),
    ('CO<sub>2</sub> growth rate (ppm/yr)', 22, 706),
    ('CH<sub>4</sub> growth rate (ppb/yr)', 656, 711),
    ('N<sub>2</sub>O growth rate (ppb/yr)', 1310, 697),
]
for txt, xx, yy in ytitles:
    annotations.append(dict(text=txt, x=px(xx), y=py(yy), xref='paper', yref='paper',
                            xanchor='center', yanchor='middle', textangle=-90,
                            showarrow=False, font=dict(family=FONT, size=14, color='#444444')))
xtitles = [(315, 475), (961, 477), (1596, 481), (316, 957), (961, 963), (1606, 963)]
for xx, yy in xtitles:
    annotations.append(dict(text='Year', x=px(xx), y=py(yy), xref='paper', yref='paper',
                            xanchor='center', yanchor='middle', showarrow=False,
                            font=dict(family=FONT, size=14, color='#444444')))
annotations.append(dict(text='a', x=px(102), y=py(52), xref='paper', yref='paper',
                        xanchor='center', yanchor='middle', showarrow=False,
                        font=dict(family='Liberation Serif', size=64, color='black')))
annotations.append(dict(text='b', x=px(115), y=py(560), xref='paper', yref='paper',
                        xanchor='center', yanchor='middle', showarrow=False,
                        font=dict(family='Liberation Serif', size=64, color='black')))
layout['annotations'] = annotations

fig.update_layout(**layout)

fig.write_html(
    "out.html",
    include_plotlyjs=True,
    full_html=True,
    config={'displayModeBar': False},
    post_script="document.documentElement.style.margin='0px';document.body.style.margin='0px';document.body.style.overflow='hidden';window.scrollTo(0,0);",
)
